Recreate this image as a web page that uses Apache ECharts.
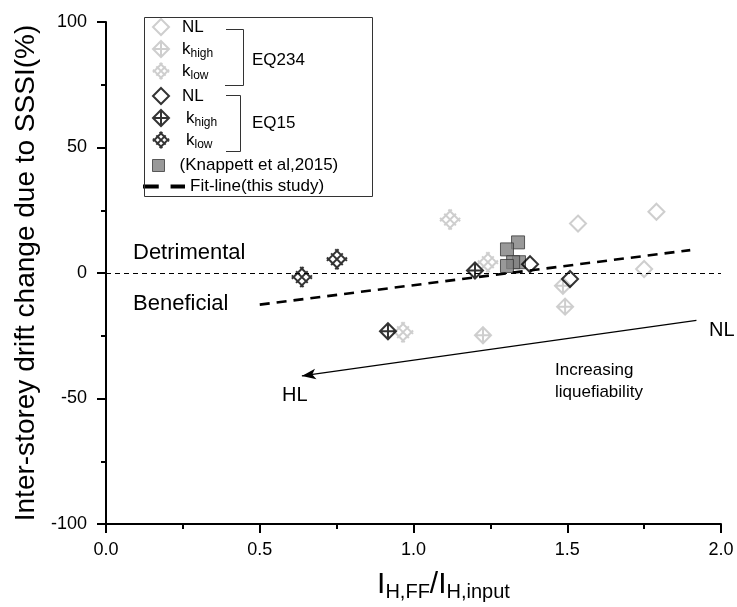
<!DOCTYPE html>
<html><head><meta charset="utf-8">
<script src="https://cdn.jsdelivr.net/npm/echarts@6/dist/echarts.min.js"></script>
<style>html,body{margin:0;padding:0;background:#fff}#c{width:737px;height:607px}</style>
</head><body><div id="c"></div>
<script>
// ---- data ----
const eq234NL   = [[1.535, 19.7], [1.79, 24.4], [1.75, 1.6]];
const eq234High = [[1.486, -5.1], [1.493, -13.4], [1.226, -24.8]];
const eq234Low  = [[1.119, 21.3], [1.242, 4.3], [0.966, -23.6]];
const eq15NL    = [[1.379, 3.5], [1.509, -2.4]];
const eq15High  = [[1.2, 1.0], [0.917, -23.2]];
const eq15Low   = [[0.637, -1.6], [0.751, 5.5]];
const knappett  = [[1.340, 12.2], [1.304, 9.4], [1.343, 4.3], [1.324, 4.3], [1.304, 2.8]];
const fitLine   = [[0.5, -12.6], [1.9, 9.1]];
const arrowFrom = [1.92, -18.9];
const arrowTo   = [0.637, -41];
const xTickLabels = {0: '0.0', 0.5: '0.5', 1: '1.0', 1.5: '1.5', 2: '2.0'};
const yTickLabels = {'-100': '-100', '-50': '-50', 0: '0', 50: '50', 100: '100'};

// ---- styles ----
const FONT = 'Liberation Sans, Arial, sans-serif';
const GREY = '#c2c2c2';
const DIAMOND = 'path://M0,-10L10,0L0,10L-10,0Z';
const DIAMOND_PLUS = 'path://M0,-10L10,0L0,10L-10,0ZM0,-10L0,10M-10,0L10,0';
const DIAMOND_X = 'path://M12,-2L-2,12M-12,2L2,-12M7,-7L-7,7M12,2L-2,-12M-12,-2L2,12M-7,-7L7,7';
const SQUARE = 'path://M0,0L10,0L10,10L0,10Z';
const DASHES = 'path://M0,0L12,0L12,3L0,3ZM21,0L32,0L32,3L21,3Z';

function hollow(color, w) { return {color: 'rgba(0,0,0,0)', borderColor: color, borderWidth: w}; }

const series = [
  {name: 'EQ234 NL', type: 'scatter', data: eq234NL, symbol: DIAMOND, symbolSize: 16, itemStyle: hollow(GREY, 2), z: 2},
  {name: 'EQ234 khigh', type: 'scatter', data: eq234High, symbol: DIAMOND_PLUS, symbolSize: 16, itemStyle: hollow(GREY, 2), z: 2},
  {name: 'EQ234 klow', type: 'scatter', data: eq234Low, symbol: DIAMOND_X, symbolSize: 20, itemStyle: hollow(GREY, 2), z: 2},
  {name: 'Knappett', type: 'scatter', data: knappett, symbol: 'rect', symbolSize: 13, itemStyle: {color: '#7f7f7f', borderColor: '#3a3a3a', borderWidth: 1}, z: 3},
  {name: 'EQ15 NL', type: 'scatter', data: eq15NL, symbol: DIAMOND, symbolSize: 16, itemStyle: hollow('#000', 2), z: 4},
  {name: 'EQ15 khigh', type: 'scatter', data: eq15High, symbol: DIAMOND_PLUS, symbolSize: 16, itemStyle: hollow('#000', 2), z: 4},
  {name: 'EQ15 klow', type: 'scatter', data: eq15Low, symbol: DIAMOND_X, symbolSize: 20, itemStyle: hollow('#000', 2), z: 4},
  {name: 'Fit', type: 'line', data: fitLine, symbol: 'none', lineStyle: {color: '#000', width: 2.6, type: [10, 7]}, itemStyle: {color: '#000'}, z: 5,
   markLine: {silent: true, symbol: 'none', label: {show: false},
     lineStyle: {color: '#000', width: 1, type: [5, 4]},
     data: [{yAxis: 0}]}},
  {name: 'Arrow', type: 'line', data: [], symbol: 'none', z: 5,
   markLine: {silent: true, symbol: ['none', 'arrow'], symbolSize: [8, 14], label: {show: false},
     lineStyle: {color: '#000', width: 1.2, type: 'solid'},
     data: [[{coord: arrowFrom}, {coord: arrowTo}]]}}
];

const rich = {
  m: {fontSize: 17, lineHeight: 22, fontFamily: FONT, color: '#000'},
  p: {fontSize: 17, lineHeight: 22, fontFamily: FONT, color: '#000', padding: [0, 0, 0, 4]},
  f: {fontSize: 17, lineHeight: 22, fontFamily: FONT, color: '#000', padding: [0, 0, 0, 0]},
  s: {fontSize: 12, lineHeight: 12, fontFamily: FONT, color: '#000', verticalAlign: 'bottom'}
};
const legendRows = [
  {name: 'EQ234 NL', text: '{m|NL}', y: 29, icon: DIAMOND, st: hollow(GREY, 2)},
  {name: 'EQ234 khigh', text: '{m|k}{s|high}', y: 51, icon: DIAMOND_PLUS, st: hollow(GREY, 2)},
  {name: 'EQ234 klow', text: '{m|k}{s|low}', y: 73, icon: DIAMOND_X, st: hollow(GREY, 2)},
  {name: 'EQ15 NL', text: '{m|NL}', y: 98, icon: DIAMOND, st: hollow('#000', 2)},
  {name: 'EQ15 khigh', text: '{p|k}{s|high}', y: 120, icon: DIAMOND_PLUS, st: hollow('#000', 2)},
  {name: 'EQ15 klow', text: '{p|k}{s|low}', y: 142, icon: DIAMOND_X, st: hollow('#000', 2)},
  {name: 'Knappett', text: '{m|(Knappett et al,2015)}', y: 168, icon: SQUARE, st: {color: '#7f7f7f', borderColor: '#3a3a3a', borderWidth: 1}, h: 12},
  {name: 'Fit', text: '{f|Fit-line(this study)}', y: 189, icon: DASHES, st: {color: '#000', borderWidth: 0}, left: 143, w: 42}
];
const legends = legendRows.map(r => ({
  show: true, selectedMode: false, padding: 0, left: r.left || 152, top: r.y - 11,
  itemWidth: r.w || 32, itemHeight: r.h || 16,
  data: [{name: r.name, icon: r.icon, itemStyle: r.st}],
  formatter: () => r.text,
  textStyle: {rich: rich}
}));

function txt(text, x, y, size, extra) {
  return Object.assign({type: 'text', x: x, y: y, style: {text: text, fontSize: size, fontFamily: FONT, fill: '#000', verticalAlign: 'middle', align: 'left'}}, extra || {});
}

const option = {
  backgroundColor: '#fff',
  animation: false,
  grid: {left: 106, right: 16, top: 22, bottom: 77, containLabel: false},
  legend: legends,
  xAxis: {
    type: 'value', min: 0, max: 2, interval: 0.5,
    name: '{m|I}{s|H,FF}{m|/I}{s|H,input}', nameLocation: 'middle', nameGap: 44,
    nameTextStyle: {padding: [0, 0, 0, 60], rich: {
      m: {fontSize: 30, lineHeight: 34, fontFamily: FONT, color: '#000'},
      s: {fontSize: 20, lineHeight: 20, fontFamily: FONT, color: '#000', verticalAlign: 'bottom'}}},
    axisLine: {show: true, onZero: false, lineStyle: {color: '#000', width: 2}},
    axisTick: {show: true, inside: false, length: 9, lineStyle: {color: '#000', width: 2}},
    minorTick: {show: true, splitNumber: 2, length: 5, lineStyle: {color: '#000', width: 2}},
    splitLine: {show: false},
    axisLabel: {fontSize: 18, color: '#000', fontFamily: FONT, margin: 17, formatter: v => xTickLabels[v]}
  },
  yAxis: {
    type: 'value', min: -100, max: 100, interval: 50,
    name: 'Inter-storey drift change due to SSSI(%)', nameLocation: 'middle', nameGap: 66,
    nameTextStyle: {fontSize: 28, color: '#000', fontFamily: FONT},
    axisLine: {show: true, onZero: false, lineStyle: {color: '#000', width: 2}},
    axisTick: {show: true, inside: false, length: 9, lineStyle: {color: '#000', width: 2}},
    minorTick: {show: true, splitNumber: 2, length: 5, lineStyle: {color: '#000', width: 2}},
    splitLine: {show: false},
    axisLabel: {fontSize: 18, color: '#000', fontFamily: FONT, margin: 19, formatter: v => yTickLabels[v]}
  },
  graphic: [
    {type: 'rect', shape: {x: 144.5, y: 17.5, width: 228, height: 179}, style: {fill: 'none', stroke: '#333', lineWidth: 1}, z: 10},
    {type: 'polyline', shape: {points: [[226, 29.5], [243.5, 29.5], [243.5, 85.5], [225, 85.5]]}, style: {fill: 'none', stroke: '#333', lineWidth: 1}, z: 10},
    {type: 'polyline', shape: {points: [[226, 95.5], [240.5, 95.5], [240.5, 151.5], [226, 151.5]]}, style: {fill: 'none', stroke: '#333', lineWidth: 1}, z: 10},
    txt('EQ234', 252, 60, 17, {z: 10}),
    txt('EQ15', 252, 123, 17, {z: 10}),
    txt('Detrimental', 133, 253, 22),
    txt('Beneficial', 133, 304, 22),
    txt('NL', 709, 330, 20),
    txt('HL', 282, 395, 20),
    {type: 'text', x: 555, y: 359, style: {text: 'Increasing\nliquefiability', fontSize: 17, lineHeight: 22, fontFamily: FONT, fill: '#000', align: 'left', verticalAlign: 'top'}}
  ],
  series: series
};
const chart = echarts.init(document.getElementById('c'), null, {renderer: 'canvas'});
chart.setOption(option);
</script>
</body></html>
